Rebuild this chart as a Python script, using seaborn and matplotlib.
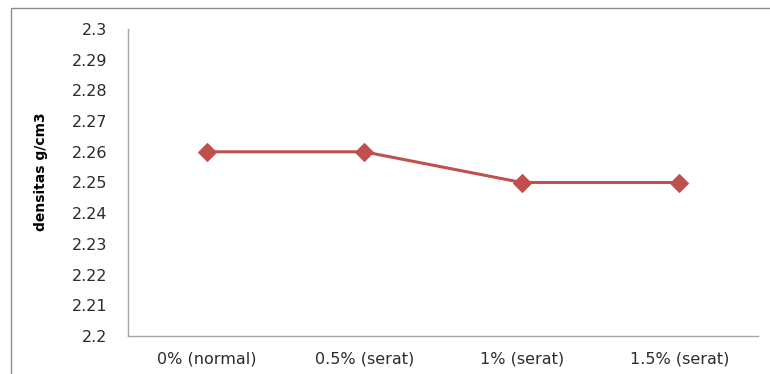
import matplotlib
matplotlib.use("Agg")
import matplotlib.pyplot as plt
from matplotlib.patches import Rectangle
import seaborn as sns
import pandas as pd

categories = ["0% (normal)", "0.5% (serat)", "1% (serat)", "1.5% (serat)"]
densitas = [2.26, 2.26, 2.25, 2.25]
y_ticks = [2.2, 2.21, 2.22, 2.23, 2.24, 2.25, 2.26, 2.27, 2.28, 2.29, 2.3]
y_tick_labels = ["2.2", "2.21", "2.22", "2.23", "2.24", "2.25", "2.26", "2.27", "2.28", "2.29", "2.3"]

df = pd.DataFrame({"kategori": categories, "densitas": densitas})

sns.set_theme(style="white")
plt.rcParams["font.family"] = ["DejaVu Sans"]

W, H = 770, 374
fig = plt.figure(figsize=(W / 100, H / 100), dpi=100)
ax = fig.add_axes([128 / W, 1 - 336 / H, (758 - 128) / W, (336 - 29) / H])

line_color = "#C0504D"
sns.lineplot(data=df, x="kategori", y="densitas", ax=ax, sort=False,
             color=line_color, linewidth=2.2, marker="D", markersize=9,
             markeredgecolor=line_color, markerfacecolor=line_color)

ax.set_xlim(-0.5, len(categories) - 0.5)
ax.set_ylim(2.2, 2.3)
ax.set_yticks(y_ticks)
ax.set_yticklabels(y_tick_labels)
ax.set_xticks(range(len(categories)))
ax.set_xticklabels(categories)
ax.tick_params(axis="y", length=0, pad=15, labelsize=11.5, colors="#2b2b2b")
ax.tick_params(axis="x", length=0, pad=11, labelsize=11.5, colors="#2b2b2b")

ax.set_xlabel("")
ax.set_ylabel("densitas g/cm3", fontsize=10, fontweight="bold", color="#000000")
ax.yaxis.set_label_coords(-0.127, 0.535)

for side in ["top", "right"]:
    ax.spines[side].set_visible(False)
for side in ["left", "bottom"]:
    ax.spines[side].set_color("#A6A6A6")
    ax.spines[side].set_linewidth(1.0)

# Outer chart frame
frame = Rectangle((11 / W, -0.1), 1.2, 1 - 8 / H + 0.1, transform=fig.transFigure,
                  fill=False, edgecolor="#8C8C8C", linewidth=1.0, clip_on=False)
fig.patches.append(frame)

fig.savefig("out.png", dpi=100)
